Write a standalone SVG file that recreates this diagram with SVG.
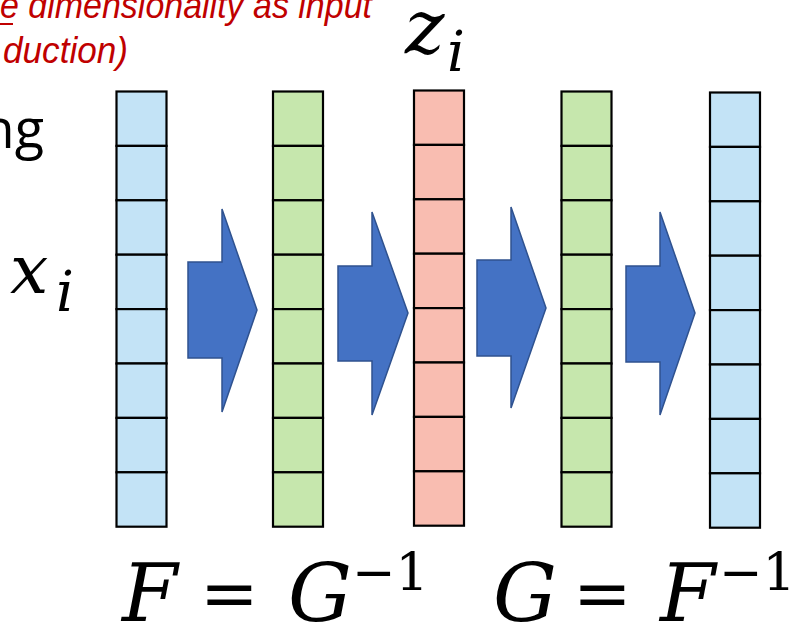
<svg xmlns="http://www.w3.org/2000/svg" width="792" height="623" viewBox="0 0 792 623">
<style>
.cell{stroke:#000;stroke-width:2.2}
.blue{fill:#C3E3F6}.green{fill:#C6E7AD}.red{fill:#F9BDB1}
.arrow{fill:#4472C4;stroke:#2F528F;stroke-width:1.5;stroke-linejoin:miter}
.note{font-family:"Liberation Sans",Arial,sans-serif;font-style:italic;fill:#C00000;font-size:37px}
.math{font-family:"DejaVu Serif",serif;font-style:italic;fill:#000}
.up{font-family:"DejaVu Serif",serif;font-style:normal;fill:#000}
</style>
<defs>
<g id="col">
<rect class="cell" x="0" y="0" width="50" height="54.4"/>
<rect class="cell" x="0" y="54.4" width="50" height="54.4"/>
<rect class="cell" x="0" y="108.8" width="50" height="54.4"/>
<rect class="cell" x="0" y="163.2" width="50" height="54.4"/>
<rect class="cell" x="0" y="217.6" width="50" height="54.4"/>
<rect class="cell" x="0" y="272" width="50" height="54.4"/>
<rect class="cell" x="0" y="326.4" width="50" height="54.4"/>
<rect class="cell" x="0" y="380.8" width="50" height="54.4"/>
</g>
</defs>
<g id="note">
<text class="note" x="0" y="18" textLength="372" lengthAdjust="spacingAndGlyphs">e dimensionality as input</text>
<line x1="0" y1="24" x2="13" y2="24" stroke="#C00000" stroke-width="2"/>
<text class="note" x="3" y="63" textLength="125" lengthAdjust="spacingAndGlyphs">duction)</text>
</g>
<g id="ng"><text x="44" y="148" text-anchor="end" font-family="'Open Sans',sans-serif" font-size="54" fill="#000">ng</text></g>
<g id="xi"><text class="math" x="10" y="293" font-size="68">x<tspan x="56" y="311" font-size="56">i</tspan></text></g>
<g id="zi"><text class="math" x="405" y="53" font-size="75">z<tspan x="447" y="71" font-size="56">i</tspan></text></g>
<g id="col1" class="blue"><use href="#col" x="116.5" y="91.5"/></g>
<g id="col2" class="green"><use href="#col" x="273" y="91.5"/></g>
<g id="col3" class="red"><use href="#col" x="414" y="90.5"/></g>
<g id="col4" class="green"><use href="#col" x="561.5" y="91.5"/></g>
<g id="col5" class="blue"><use href="#col" x="710" y="92.5"/></g>
<g id="connectors">
<polygon class="arrow" points="188,262 222,262 222,209 257,310 222,412 222,358 188,358"/>
<polygon class="arrow" points="338,266 372,266 372,212 408,313 372,415 372,361 338,361"/>
<polygon class="arrow" points="477,260 511,260 511,207 546,308 511,408 511,356 477,356"/>
<polygon class="arrow" points="626,266 660,266 660,212 695,313 660,415 660,362 626,362"/>
</g>
<g id="formula1"><text font-size="80"><tspan class="math" x="122" y="621">F</tspan><tspan class="up" x="200" y="617" font-size="70">=</tspan><tspan class="math" x="288" y="621">G</tspan><tspan class="up" x="352" y="590" font-size="52">−1</tspan></text></g>
<g id="formula2"><text font-size="80"><tspan class="math" x="493" y="621">G</tspan><tspan class="up" x="573" y="617" font-size="70">=</tspan><tspan class="math" x="660" y="621">F</tspan><tspan class="up" x="719" y="590" font-size="52">−1</tspan></text></g>
</svg>
